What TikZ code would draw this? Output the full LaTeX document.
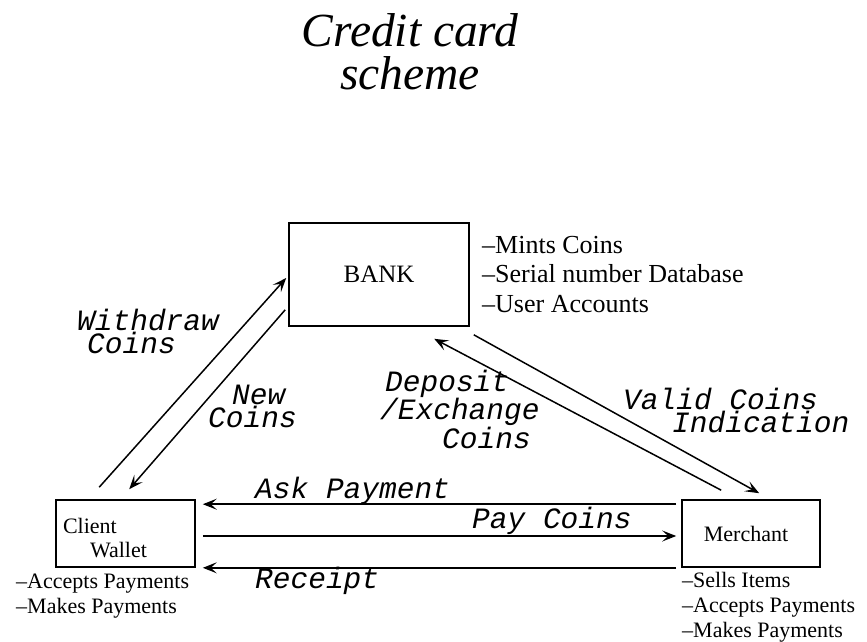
\documentclass[tikz,border=0pt]{standalone}
\usepackage{fontspec}
\setmainfont{Liberation Serif}
\newfontfamily\monofont{Liberation Mono}
\usepackage{tikz}
\usetikzlibrary{arrows.meta,positioning}

\begin{document}
\begin{tikzpicture}[x=1pt,y=-1pt,
              party/.style={draw, line width=1.6pt, inner sep=0pt},
              flow/.style={line width=1.5pt, -{Stealth[length=14pt,width=11pt,inset=6pt]}},
              msg/.style={font=\monofont\itshape\fontsize{29.5}{23}\selectfont, inner sep=0pt, anchor=base west, align=left},
              notes/.style={inner sep=0pt, anchor=base west, align=left},
             ]
\useasboundingbox (0,0) rectangle (867,641);
% title
\node[font=\itshape\fontsize{47.5}{43}\selectfont, align=center, anchor=base, inner sep=0pt] (title) at (410,89) {Credit card\\scheme};
% the three parties
\node[party, minimum width=180pt, minimum height=103pt, font=\fontsize{25}{30}\selectfont] (bank) at (379,274.5) {BANK};
\node[party, minimum width=139pt, minimum height=67pt, text width=125pt, align=left, font=\fontsize{22}{24}\selectfont] (wallet) at (125.5,533.5) {\rule{0pt}{24pt}Client\\\hspace*{27pt}Wallet};
\node[party, minimum width=138pt, minimum height=67pt, font=\fontsize{22}{25}\selectfont] (merchant) at (751,533.5) {\hspace*{-10pt}Merchant};
% what each one does
\node[notes, font=\fontsize{26}{29.5}\selectfont] (banknotes) at (482,312) {--Mints Coins\\--Serial number Database\\--User Accounts};
\node[notes, font=\fontsize{22}{25}\selectfont] (walletnotes) at (16,613) {--Accepts Payments\\--Makes Payments};
\node[notes, font=\fontsize{22}{25}\selectfont] (merchnotes) at (682,637) {--Sells Items\\--Accepts Payments\\--Makes Payments};
% bank <-> wallet
\draw[flow] ([xshift=44pt,yshift=12pt]wallet.north west) -- ([xshift=-2pt,yshift=-3.5pt]bank.west);
\draw[flow] ([xshift=-3pt,yshift=17pt]bank.south west) -- ([xshift=74pt,yshift=10pt]wallet.north west);
% bank <-> merchant
\draw[flow] ([xshift=40pt,yshift=9pt]merchant.north west) -- ([xshift=146pt,yshift=-12pt]bank.south west);
\draw[flow] ([xshift=4pt,yshift=-8pt]bank.south east) -- ([xshift=78pt,yshift=6pt]merchant.north west);
% wallet <-> merchant
\draw[flow] ([xshift=-5pt,yshift=-5pt]merchant.north west) -- ([xshift=7pt,yshift=-5pt]wallet.north east);
\draw[flow] ([xshift=7pt,yshift=-2.5pt]wallet.east) -- ([xshift=-5pt,yshift=-2.5pt]merchant.west);
\draw[flow] ([xshift=-5pt]merchant.south west) -- ([xshift=7pt]wallet.south east);
% messages
\node[msg] (withdraw) at (77,353) {Withdraw\\\hspace*{10pt}Coins};
\node[msg] (newcoins) at (208,427) {\hspace*{24pt}New\\Coins};
\node[msg] (deposit) at (380,448) {\hspace*{5pt}Deposit\\/Exchange\\\hspace*{62pt}Coins};
\node[msg] (valid) at (623,432) {Valid Coins\\\hspace*{49pt}Indication};
\node[msg] (ask) at (255,498) {Ask Payment};
\node[msg] (pay) at (472,528) {Pay Coins};
\node[msg] (receipt) at (255,588) {Receipt};
\end{tikzpicture}
\end{document}
